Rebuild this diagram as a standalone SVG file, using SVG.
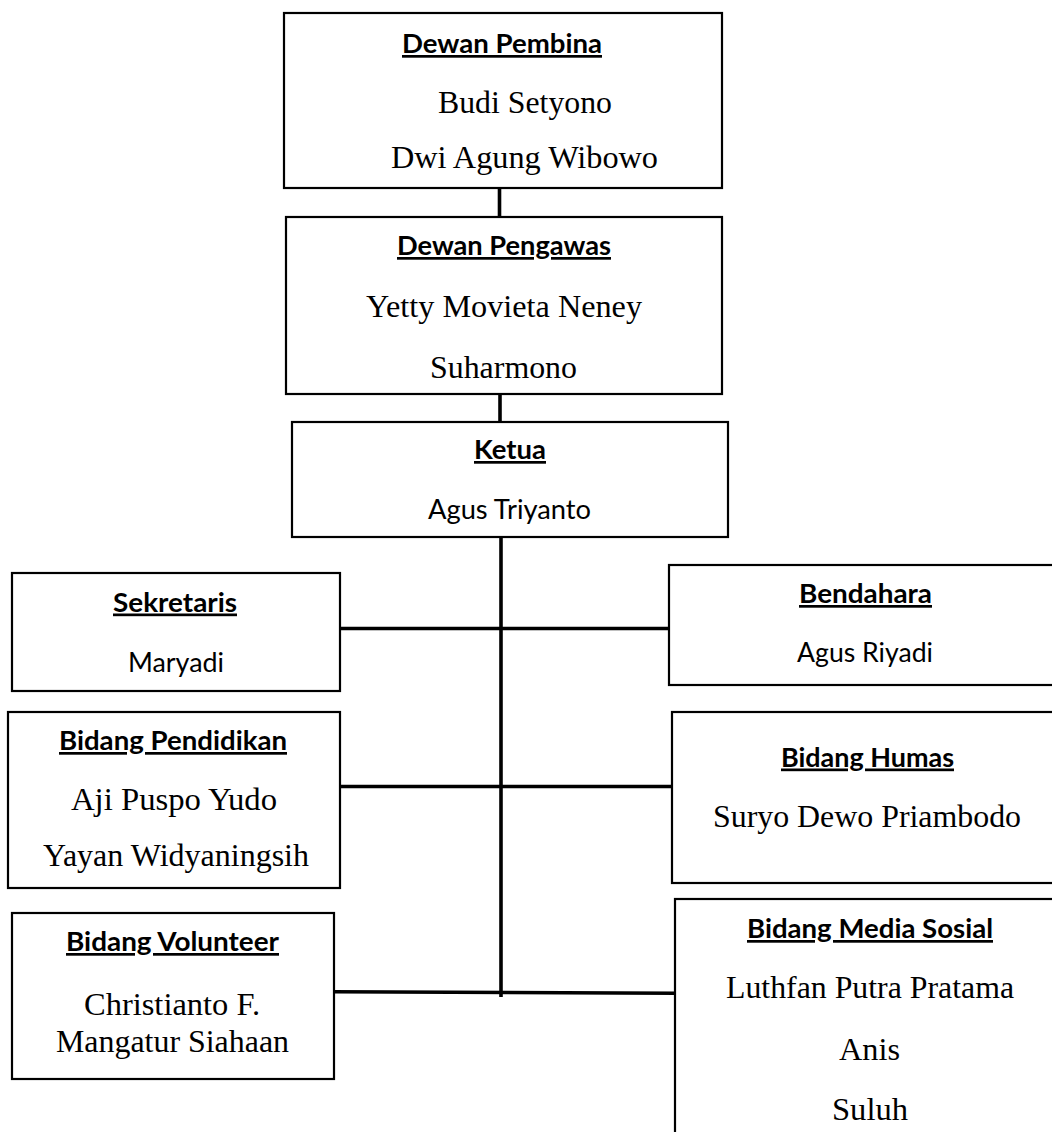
<svg xmlns="http://www.w3.org/2000/svg" width="1052" height="1132" viewBox="0 0 1052 1132">
<style>
.box{fill:#fff;stroke:#000;stroke-width:2.2}
.conn line{stroke:#000;stroke-width:3.6;stroke-linecap:butt}
.t{font-family:Lato,"Open Sans","Liberation Sans",sans-serif;font-weight:bold;font-size:27px;fill:#000;text-decoration:underline}
.c{font-family:Lato,"Open Sans","Liberation Sans",sans-serif;font-size:27px;fill:#000}
.s{font-family:"Liberation Serif","Times New Roman",serif;font-size:32px;fill:#000}
</style>
<rect width="1052" height="1132" fill="#fff"/>
<g id="connectors" class="conn">
<line x1="499.5" y1="188" x2="499.5" y2="218"/>
<line x1="500" y1="394" x2="500" y2="423"/>
<line x1="501" y1="537" x2="501" y2="997"/>
<line x1="340" y1="628.5" x2="668" y2="628.5"/>
<line x1="340" y1="786.5" x2="677" y2="786.5"/>
<line x1="334" y1="991.8" x2="676" y2="993.3"/>
</g>
<g id="dewan-pembina">
<rect class="box" x="284" y="13" width="438" height="175"/>
<text class="t" x="402" y="53" textLength="200" lengthAdjust="spacingAndGlyphs">Dewan Pembina</text>
<text class="s" x="438" y="113" textLength="174" lengthAdjust="spacingAndGlyphs">Budi Setyono</text>
<text class="s" x="391" y="168" textLength="267" lengthAdjust="spacingAndGlyphs">Dwi Agung Wibowo</text>
</g>
<g id="dewan-pengawas">
<rect class="box" x="286" y="217" width="436" height="177"/>
<text class="t" x="397" y="255" textLength="214" lengthAdjust="spacingAndGlyphs">Dewan Pengawas</text>
<text class="s" x="366" y="317" textLength="276" lengthAdjust="spacingAndGlyphs">Yetty Movieta Neney</text>
<text class="s" x="430" y="378" textLength="147" lengthAdjust="spacingAndGlyphs">Suharmono</text>
</g>
<g id="ketua">
<rect class="box" x="292" y="422" width="436" height="115"/>
<text class="t" x="474" y="459" textLength="72" lengthAdjust="spacingAndGlyphs">Ketua</text>
<text class="c" x="428" y="519" textLength="163" lengthAdjust="spacingAndGlyphs">Agus Triyanto</text>
</g>
<g id="sekretaris">
<rect class="box" x="12" y="573" width="328" height="118"/>
<text class="t" x="113" y="611.5" textLength="124" lengthAdjust="spacingAndGlyphs">Sekretaris</text>
<text class="c" x="128" y="671.5" textLength="96" lengthAdjust="spacingAndGlyphs">Maryadi</text>
</g>
<g id="bendahara">
<rect class="box" x="669" y="565" width="400" height="120"/>
<text class="t" x="799" y="603" textLength="133" lengthAdjust="spacingAndGlyphs">Bendahara</text>
<text class="c" x="797" y="661.5" textLength="136" lengthAdjust="spacingAndGlyphs">Agus Riyadi</text>
</g>
<g id="bidang-pendidikan">
<rect class="box" x="8" y="712" width="332" height="176"/>
<text class="t" x="59" y="750" textLength="228" lengthAdjust="spacingAndGlyphs">Bidang Pendidikan</text>
<text class="s" x="71" y="810" textLength="206" lengthAdjust="spacingAndGlyphs">Aji Puspo Yudo</text>
<text class="s" x="43" y="866" textLength="266" lengthAdjust="spacingAndGlyphs">Yayan Widyaningsih</text>
</g>
<g id="bidang-humas">
<rect class="box" x="672" y="712" width="400" height="171"/>
<text class="t" x="781" y="766.5" textLength="173" lengthAdjust="spacingAndGlyphs">Bidang Humas</text>
<text class="s" x="713" y="826.5" textLength="308" lengthAdjust="spacingAndGlyphs">Suryo Dewo Priambodo</text>
</g>
<g id="bidang-volunteer">
<rect class="box" x="12" y="913" width="322" height="166"/>
<text class="t" x="66" y="951" textLength="213" lengthAdjust="spacingAndGlyphs">Bidang Volunteer</text>
<text class="s" x="84" y="1015" textLength="176" lengthAdjust="spacingAndGlyphs">Christianto F.</text>
<text class="s" x="56" y="1051.5" textLength="233" lengthAdjust="spacingAndGlyphs">Mangatur Siahaan</text>
</g>
<g id="bidang-media-sosial">
<rect class="box" x="675" y="899" width="400" height="260"/>
<text class="t" x="747" y="938" textLength="246" lengthAdjust="spacingAndGlyphs">Bidang Media Sosial</text>
<text class="s" x="726" y="998" textLength="288" lengthAdjust="spacingAndGlyphs">Luthfan Putra Pratama</text>
<text class="s" x="839" y="1060" textLength="61" lengthAdjust="spacingAndGlyphs">Anis</text>
<text class="s" x="832" y="1120" textLength="76" lengthAdjust="spacingAndGlyphs">Suluh</text>
</g>
</svg>
